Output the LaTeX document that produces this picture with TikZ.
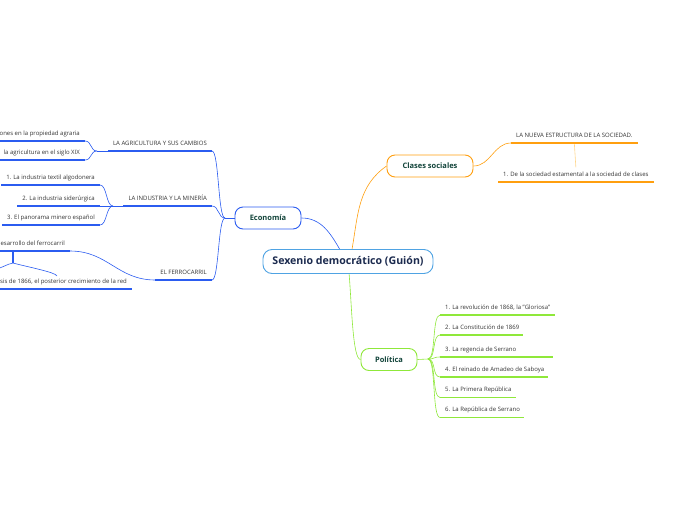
\documentclass[tikz,border=0pt]{standalone}
\usepackage{fontspec}
\setmainfont{Open Sans}

\definecolor{rootline}{HTML}{4FA3E3}
\definecolor{rootink}{HTML}{1B2A4E}
\definecolor{ecoblue}{HTML}{2B5CF0}
\definecolor{clorange}{HTML}{FF9F0F}
\definecolor{clpale}{HTML}{FFD58A}
\definecolor{polgreen}{HTML}{8FE83A}
\definecolor{topicink}{HTML}{12443A}
\definecolor{itemink}{HTML}{333333}

\tikzset{
  rootbox/.style={draw=rootline, line width=0.9pt, rounded corners=9pt, fill=white,
    minimum width=170pt, minimum height=24pt, text=rootink,
    font=\bfseries\fontsize{10.6}{12}\selectfont},
  topicbox/.style={line width=0.9pt, rounded corners=8pt, fill=white,
    minimum height=22pt, text=topicink, font=\bfseries\fontsize{7.5}{9}\selectfont},
  item/.style={inner xsep=5pt, inner ysep=4.3pt, text=itemink,
    font=\fontsize{6}{7}\selectfont, text height=4.3pt, text depth=1.3pt},
  branch/.style={line width=0.6pt},
  uline/.style={line width=1.2pt},
  lbranch/.style={out=180, in=0, distance=7pt},
  rbranch/.style={out=0, in=180, distance=8pt}
}

\begin{document}
\begin{tikzpicture}[x=1pt, y=-1pt]
\useasboundingbox (0,0) rectangle (696,520);
\clip (0,0) rectangle (696,520);

% centre and main topics
\node[rootbox] (root) at (348,261.5) {Sexenio democrático (Guión)};
\node[topicbox, draw=ecoblue, minimum width=66pt] (eco) at (268,218) {Economía};
\node[topicbox, draw=clorange, minimum width=86pt] (clases) at (430,166) {Clases sociales};
\node[topicbox, draw=polgreen, minimum width=56pt] (pol) at (389,359.5) {Política};

\draw[branch, ecoblue] (root.124) to[out=120, in=0] (eco.east);
\draw[branch, clorange] (root.72) to[out=80, in=215] (clases.west);
\draw[branch, polgreen] (root.-85) to[out=-85, in=180, out distance=30pt, in distance=8pt] (pol.west);

% economia
\coordinate (ecoj) at (225,218);
\node[item, anchor=south east] (agri) at (212,151) {LA AGRICULTURA Y SUS CAMBIOS};
\node[item, anchor=south east] (indu) at (212,206) {LA INDUSTRIA Y LA MINERÍA};
\node[item, anchor=south east] (ferro) at (212,280) {EL FERROCARRIL};
\draw[branch, ecoblue] (eco.west) -- (ecoj);
\foreach \n in {agri, indu, ferro}
  \draw[branch, ecoblue] (ecoj) to[lbranch] (\n.south east);

% agricultura
\coordinate (agrij) at (97,151);
\node[item, anchor=south east] (agri1) at (85,141) {ones en la propiedad agraria};
\node[item, anchor=south east] (agri2) at (85,160) {la agricultura en el siglo XIX};
\draw[branch, ecoblue] (agri.south west) -- (agrij);
\foreach \n in {agri1, agri2}
  \draw[branch, ecoblue] (agrij) to[lbranch] (\n.south east);

% industria
\coordinate (induj) at (113,206);
\node[item, anchor=south east] (indu1) at (100,185) {1. La industria textil algodonera};
\node[item, anchor=south east] (indu2) at (100,206) {2. La industria siderúrgica};
\node[item, anchor=south east] (indu3) at (100,225) {3. El panorama minero español};
\draw[branch, ecoblue] (indu.south west) -- (induj);
\foreach \n in {indu1, indu2, indu3}
  \draw[branch, ecoblue] (induj) to[lbranch] (\n.south east);

% ferrocarril
\node[item, anchor=south east] (ferro1) at (70,251) {esarrollo del ferrocarril};
\node[item, anchor=south east] (ferro2) at (132,289) {sis de 1866, el posterior crecimiento de la red};
\draw[branch, ecoblue] (ferro.south west) to[out=180, in=0, distance=38pt] (ferro1.south east);
\coordinate (fbtop) at (13,251);
\coordinate (fb) at (13,263);
\coordinate (fleft) at (-4,269);
\coordinate (fright) at (57,276);
\draw[uline, ecoblue] (fbtop) -- (fb);
\draw[branch, ecoblue] (fb) to[out=190, in=10, distance=6pt] (fleft);
\draw[branch, ecoblue] (fb) to[out=-15, in=110, out distance=16pt, in distance=4pt] (fright);

\foreach \n in {agri, indu, ferro, agri1, agri2, indu1, indu2, indu3, ferro1, ferro2}
  \draw[uline, ecoblue] (\n.south west) -- (\n.south east);

% clases sociales
\node[item, anchor=south west] (estr) at (511,143) {LA NUEVA ESTRUCTURA DE LA SOCIEDAD.};
\node[item, anchor=south west] (clase1) at (498,182) {1. De la sociedad estamental a la sociedad de clases};
\draw[branch, clorange] (clases.east) to[out=0, in=180] (estr.south west);
\draw[branch, clpale] (estr.south) -- (clase1.north);
\foreach \n in {estr, clase1}
  \draw[uline, clorange] (\n.south west) -- (\n.south east);

% politica
\coordinate (polj) at (428,359);
\node[item, anchor=south west] (pol1) at (440,315) {1. La revolución de 1868, la "Gloriosa"};
\node[item, anchor=south west] (pol2) at (440,335) {2. La Constitución de 1869};
\node[item, anchor=south west] (pol3) at (440,357) {3. La regencia de Serrano};
\node[item, anchor=south west] (pol4) at (440,377) {4. El reinado de Amadeo de Saboya};
\node[item, anchor=south west] (pol5) at (440,397.5) {5. La Primera República};
\node[item, anchor=south west] (pol6) at (440,417.5) {6. La República de Serrano};
\draw[branch, polgreen] (pol.east) -- (polj);
\foreach \n/\len in {pol1/115, pol2/83, pol3/113, pol4/108, pol5/76, pol6/84} {
  \draw[branch, polgreen] (polj) to[rbranch] (\n.south west);
  \draw[uline, polgreen] (\n.south west) -- ++(\len,0);
}
\end{tikzpicture}
\end{document}
